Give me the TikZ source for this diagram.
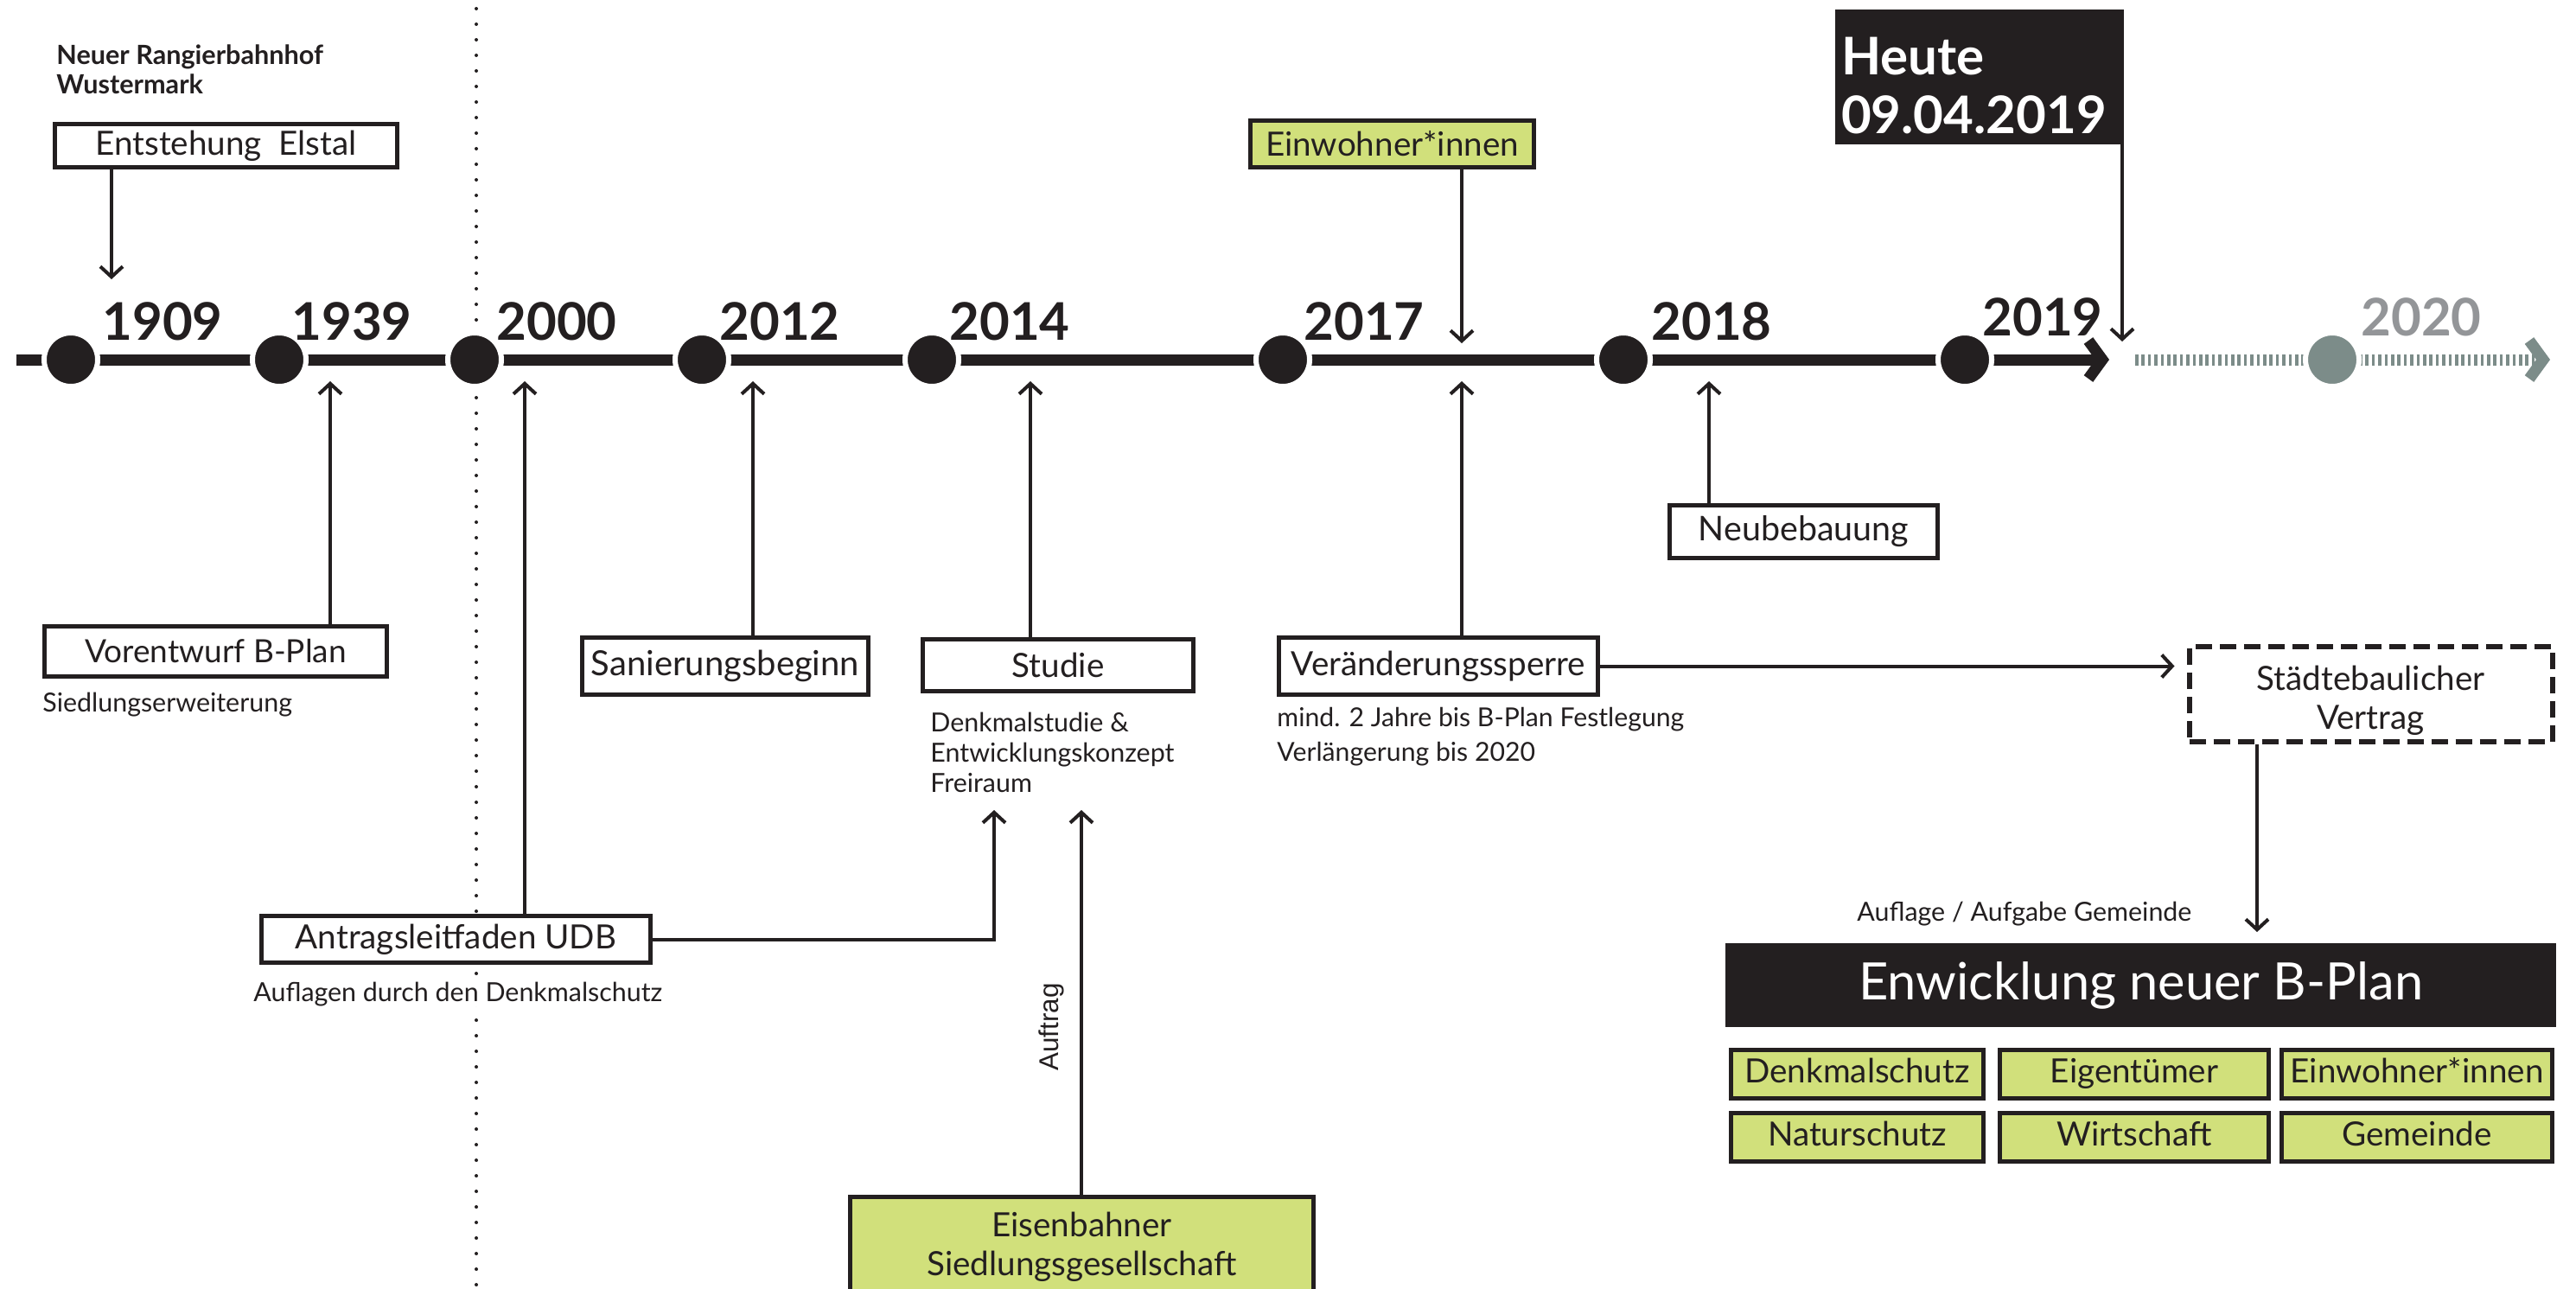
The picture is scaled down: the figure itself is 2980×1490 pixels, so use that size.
\documentclass[tikz,border=0pt]{standalone}
\usepackage{fontspec}
\setmainfont{Lato}
\newfontfamily\helv{Liberation Sans}
\usetikzlibrary{positioning,arrows.meta}
\definecolor{ink}{HTML}{231F20}
\definecolor{leaf}{HTML}{D1E07B}
\definecolor{ash}{HTML}{939598}
\definecolor{slate}{HTML}{7C8C89}

\begin{document}
\begin{tikzpicture}[x=0.5pt, y=-0.5pt,
      >={Straight Barb[sharp, length=6pt, width=13pt]},
      box/.style={rectangle, draw=ink, line width=2.5pt, fill=white, inner sep=0pt,
                  align=center, text=ink, font=\fontsize{19.3}{22.5}\selectfont},
      leafbox/.style={box, fill=leaf},
      cell/.style={leafbox, minimum height=28pt, text height=14pt, text depth=4pt},
      darkbox/.style={rectangle, fill=ink, text=white, inner sep=0pt},
      note/.style={anchor=west, align=left, inner sep=0pt, text=ink,
                   font=\fontsize{15.2}{17.5}\selectfont},
      year/.style={anchor=base west, inner sep=0pt, text=ink,
                   font=\bfseries\fontsize{30}{30}\selectfont},
      yeardot/.style={circle, fill=ink, draw=white, line width=3pt,
                      minimum size=31pt, inner sep=0pt},
      link/.style={->, draw=ink, line width=2pt}]
    \path[use as bounding box, fill=white] (0,0) rectangle (2980,1490);

    \draw[ink, line width=2pt, line cap=round, dash pattern=on 0pt off 9pt] (551,10) -- (551,1490);
    \draw[ink, line width=6.5pt, -{Straight Barb[sharp, length=8pt, width=22pt]}] (19,416) -- (2440,416);
    \draw[slate, line width=6.5pt, dash pattern=on 1.8pt off 1.9pt,
          -{Straight Barb[sharp, length=8pt, width=22pt]}] (2470,416) -- (2950,416);

    \node[yeardot] (d1909) at (82,416) {};
    \node[yeardot] (d1939) at (323,416) {};
    \node[yeardot] (d2000) at (549,416) {};
    \node[yeardot] (d2012) at (812,416) {};
    \node[yeardot] (d2014) at (1078,416) {};
    \node[yeardot] (d2017) at (1484,416) {};
    \node[yeardot] (d2018) at (1878,416) {};
    \node[yeardot] (d2019) at (2273,416) {};
    \node[yeardot, fill=slate] (d2020) at (2698,416) {};

    \node[year] (l1909) at (118,393) {1909};
    \node[year] (l1939) at (337,393) {1939};
    \node[year] (l2000) at (574,393) {2000};
    \node[year] (l2012) at (832,393) {2012};
    \node[year] (l2014) at (1098,393) {2014};
    \node[year] (l2017) at (1508,393) {2017};
    \node[year] (l2018) at (1910,393) {2018};
    \node[year] (l2019) at (2293,388) {2019};
    \node[year, text=ash] (l2020) at (2731,388) {2020};

    \node[note, font=\bfseries\fontsize{15.3}{17}\selectfont] (bhf) at (65,80)
      {Neuer Rangierbahnhof\\Wustermark};
    \node[box, minimum width=198pt, minimum height=25pt] (ent) at (261.5,168.5) {Entstehung~~Elstal};
    \node[box, font=\fontsize{18.5}{22}\selectfont, minimum width=198pt, minimum height=29pt]
      (vor) at (249.5,753.5) {Vorentwurf B-Plan};
    \node[note] (vorn) at (49,815) {Siedlungserweiterung};
    \node[box, minimum width=225pt, minimum height=27pt] (ant) at (527.5,1086.5) {Antragsleitfaden UDB};
    \node[note, fill=white] (antn) at (293,1150) {Auflagen durch den Denkmalschutz};
    \node[box, font=\fontsize{20}{22}\selectfont, minimum width=165.5pt, minimum height=33pt]
      (san) at (839,770.5) {Sanierungsbeginn};
    \node[box, minimum width=156.5pt, minimum height=30pt] (stu) at (1224,769.5) {Studie};
    \node[note] (stun) at (1076,870) {Denkmalstudie \&\\Entwicklungskonzept\\Freiraum};
    \node[leafbox, minimum width=268pt, minimum height=58pt] (eis) at (1251.5,1442)
      {Eisenbahner\\Siedlungsgesellschaft};
    \node[rotate=90, inner sep=0pt, text=ink, font=\helv\fontsize{15.7}{15.7}\selectfont] (auf) at (1216,1188) {Auftrag};
    \node[box, minimum width=184.5pt, minimum height=33pt] (ver) at (1664,770.5) {Veränderungssperre};
    \node[note, font=\fontsize{15.1}{20}\selectfont] (vern) at (1477,852)
      {mind. 2 Jahre bis B-Plan Festlegung\\Verlängerung bis 2020};
    \node[leafbox, minimum width=164pt, minimum height=27pt] (einw) at (1610.5,166.5) {Einwohner*innen};
    \node[box, font=\fontsize{19.7}{22}\selectfont, minimum width=155pt, minimum height=30.5pt]
      (neu) at (2086.5,615) {Neubebauung};
    \node[darkbox, minimum width=167pt, minimum height=78pt, text width=160pt, align=left,
          font=\bfseries\fontsize{30}{34}\selectfont] (heute) at (2290,89)
      {\rule{0pt}{32pt}Heute\\09.04.2019};
    \node[box, line width=3pt, dash pattern=on 9.5pt off 4.5pt, minimum width=210pt,
          minimum height=55pt] (svt) at (2742.5,803) {\rule{0pt}{22pt}Städtebaulicher\\Vertrag};
    \node[note] (svtn) at (2148,1057) {Auflage / Aufgabe Gemeinde};
    \node[darkbox, minimum width=480.5pt, minimum height=48.5pt,
          font=\fontsize{29.8}{29.8}\selectfont] (bplan) at (2476.5,1139.5) {Enwicklung neuer B-Plan};

    \node[cell, minimum width=146pt] (g1) at (2148.5,1242.5) {Denkmalschutz};
    \node[cell, minimum width=155.5pt, right=7pt of g1] (g2) {Eigentümer};
    \node[cell, minimum width=156.5pt, right=5pt of g2] (g3) {Einwohner*innen};
    \node[cell, minimum width=146pt, below=6pt of g1] (g4) {Naturschutz};
    \node[cell, minimum width=155.5pt, below=6pt of g2] (g5) {Wirtschaft};
    \node[cell, minimum width=156.5pt, below=6pt of g3] (g6) {Gemeinde};

    \coordinate (a1909) at (129,323);
    \coordinate (a1939) at (382,441);
    \coordinate (a2000) at (607,441);
    \coordinate (a2012) at (871,441);
    \coordinate (a2014) at (1192,441);
    \coordinate (a2017) at (1691,441);
    \coordinate (t2017) at (1691,397);
    \coordinate (a2018) at (1977,441);
    \coordinate (anow) at (2455,395);
    \coordinate (astu) at (1150,937);
    \coordinate (aeis) at (1251,937);
    \coordinate (abpl) at (2611,1078);

    \draw[link] (ent.south -| a1909) -- (a1909);
    \draw[link] (vor.north -| a1939) -- (a1939);
    \draw[link] (ant.north -| a2000) -- (a2000);
    \draw[link] (san.north -| a2012) -- (a2012);
    \draw[link] (stu.north -| a2014) -- (a2014);
    \draw[link] (ver.north -| a2017) -- (a2017);
    \draw[link] (einw.south -| t2017) -- (t2017);
    \draw[link] (neu.north -| a2018) -- (a2018);
    \draw[link] (heute.south -| anow) -- (anow);
    \draw[link] (ant.east) -| (astu);
    \draw[link] (eis.north -| aeis) -- (aeis);
    \draw[link, shorten >=7pt] (ver.east) -- (ver.east -| svt.west);
    \draw[link] (svt.south -| abpl) -- (abpl);
  \end{tikzpicture}
\end{document}
